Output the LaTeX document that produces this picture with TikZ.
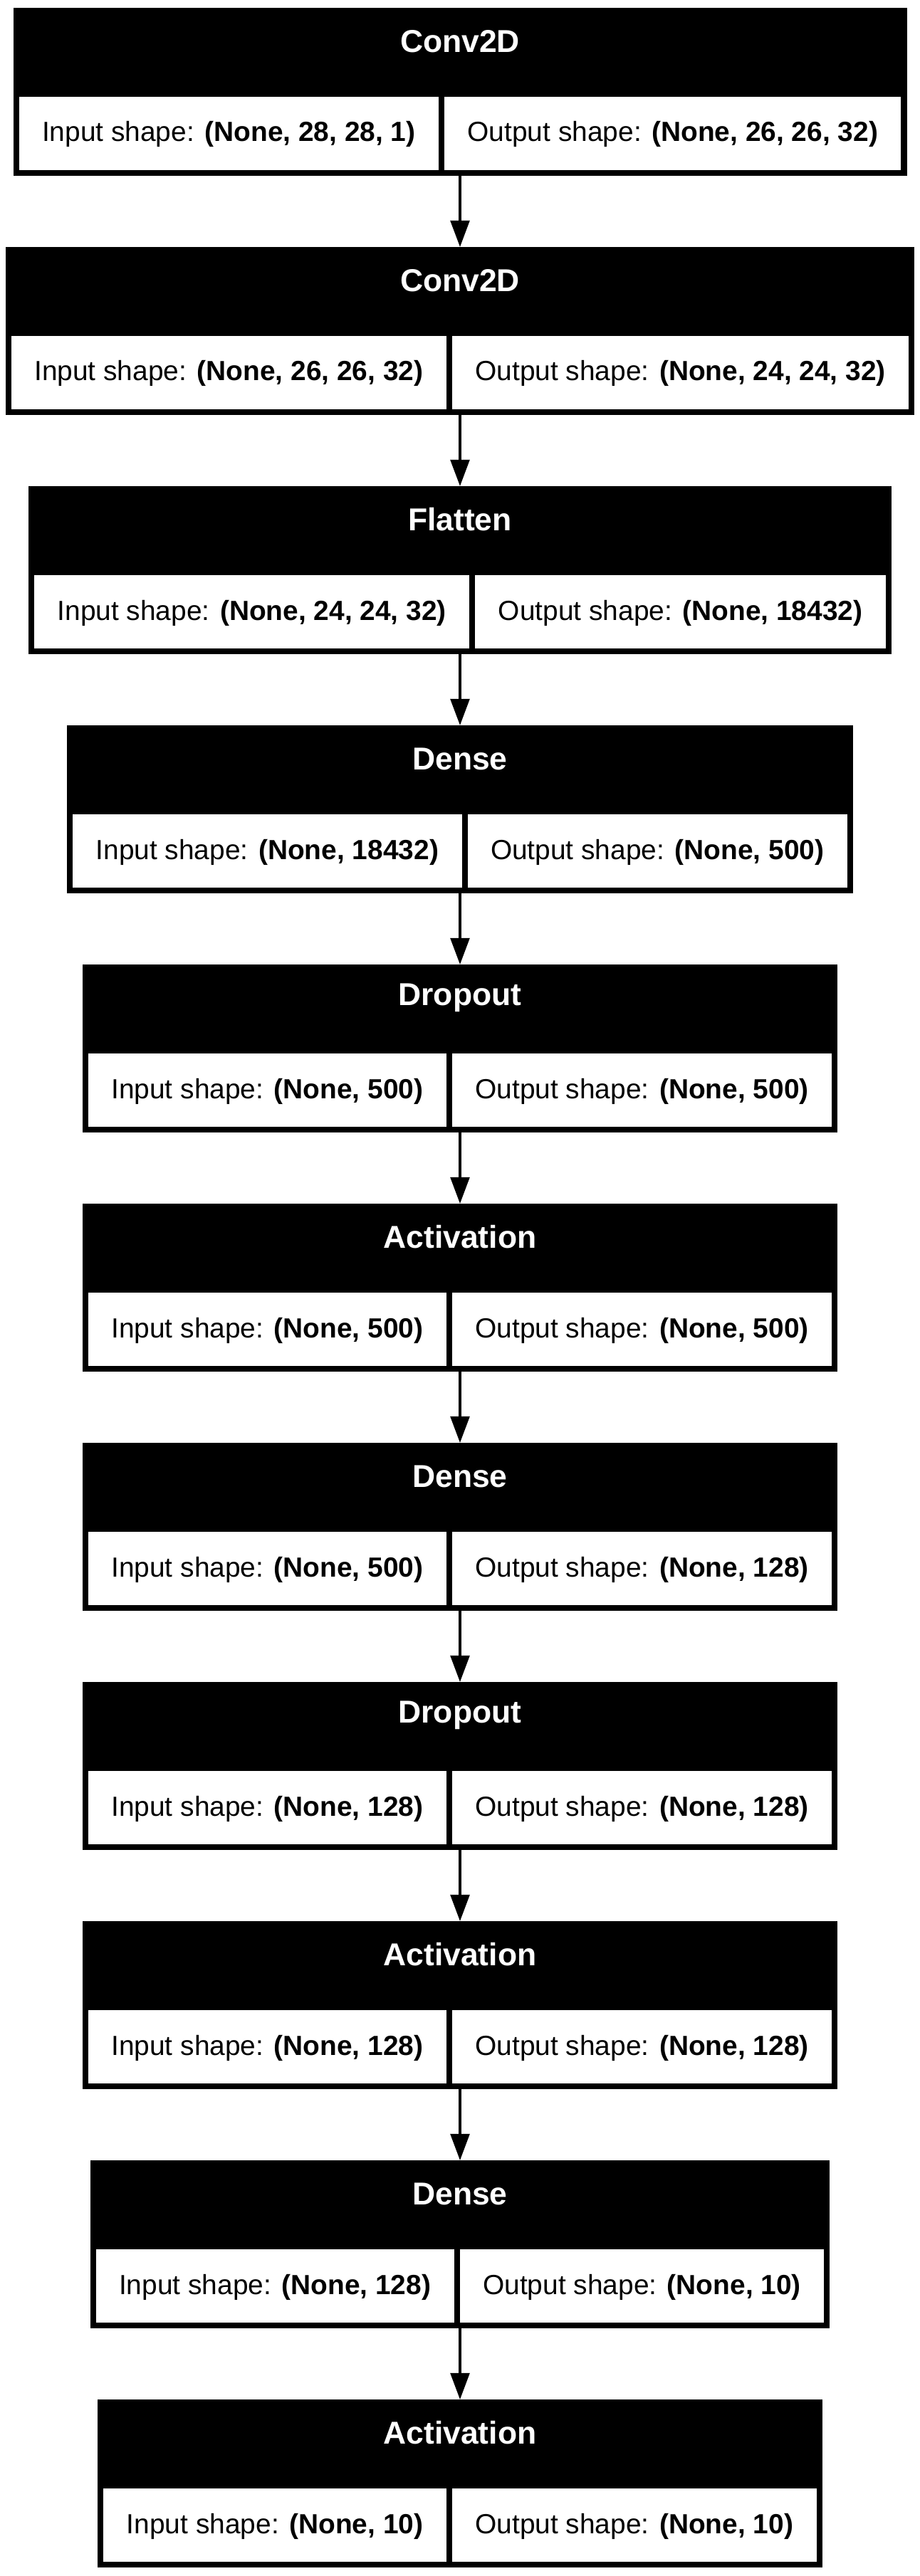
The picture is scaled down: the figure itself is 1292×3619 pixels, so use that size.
\documentclass[tikz,border=0pt]{standalone}
\usepackage{fontspec}
\setmainfont{Liberation Sans}
\usetikzlibrary{arrows.meta}
\usetikzlibrary{positioning,fit}

\newlength{\px}\setlength{\px}{0.36pt}
\setlength{\fboxsep}{0pt}
\newcommand{\cellfont}{\fontsize{14pt}{17pt}\selectfont}
\newcommand{\headfont}{\fontsize{16pt}{19pt}\selectfont\bfseries}
\newcommand{\shapecell}[1]{%
  \colorbox{white}{\hspace{32.5\px}\rule[-40\px]{0pt}{103\px}#1\hspace{32.5\px}}}

% one layer: name, top (px), title, input shape, output shape
\newcommand{\layer}[5]{%
  \node[shapes, anchor=north] (#1-shapes) at (646,{-#2-125})
    {\shapecell{Input shape: \textbf{#4}}\hspace{8\px}%
     \shapecell{Output shape: \textbf{#5}}\rule[-48\px]{0pt}{1\px}};
  \coordinate (#1-corner) at ([yshift=125\px]#1-shapes.north east);
  \node[head, fit=(#1-shapes.north west)(#1-corner)] (#1) {#3};
}

\begin{document}
\begin{tikzpicture}[x=0.36pt, y=0.36pt,
shapes/.style={fill=black, font=\cellfont, inner xsep=8\px, inner ysep=0pt, outer sep=0pt},
head/.style={fill=black, text=white, font=\headfont, inner sep=0pt, outer sep=0pt,
  text height=36\px, text depth=7\px},
flow/.style={-{Triangle[length=13.4pt, width=9.6pt]}, line width=1.4pt}]
\useasboundingbox (0,0) rectangle (1292,-3619);
\layer{l1}{11}{Conv2D}{(None, 28, 28, 1)}{(None, 26, 26, 32)}
\layer{l2}{347}{Conv2D}{(None, 26, 26, 32)}{(None, 24, 24, 32)}
\layer{l3}{683}{Flatten}{(None, 24, 24, 32)}{(None, 18432)}
\layer{l4}{1019}{Dense}{(None, 18432)}{(None, 500)}
\layer{l5}{1355}{Dropout}{(None, 500)}{(None, 500)}
\layer{l6}{1691}{Activation}{(None, 500)}{(None, 500)}
\layer{l7}{2027}{Dense}{(None, 500)}{(None, 128)}
\layer{l8}{2363}{Dropout}{(None, 128)}{(None, 128)}
\layer{l9}{2699}{Activation}{(None, 128)}{(None, 128)}
\layer{l10}{3035}{Dense}{(None, 128)}{(None, 10)}
\layer{l11}{3371}{Activation}{(None, 10)}{(None, 10)}
\draw[flow] (l1-shapes.south) -- (l2.north);
\draw[flow] (l2-shapes.south) -- (l3.north);
\draw[flow] (l3-shapes.south) -- (l4.north);
\draw[flow] (l4-shapes.south) -- (l5.north);
\draw[flow] (l5-shapes.south) -- (l6.north);
\draw[flow] (l6-shapes.south) -- (l7.north);
\draw[flow] (l7-shapes.south) -- (l8.north);
\draw[flow] (l8-shapes.south) -- (l9.north);
\draw[flow] (l9-shapes.south) -- (l10.north);
\draw[flow] (l10-shapes.south) -- (l11.north);
\end{tikzpicture}
\end{document}
